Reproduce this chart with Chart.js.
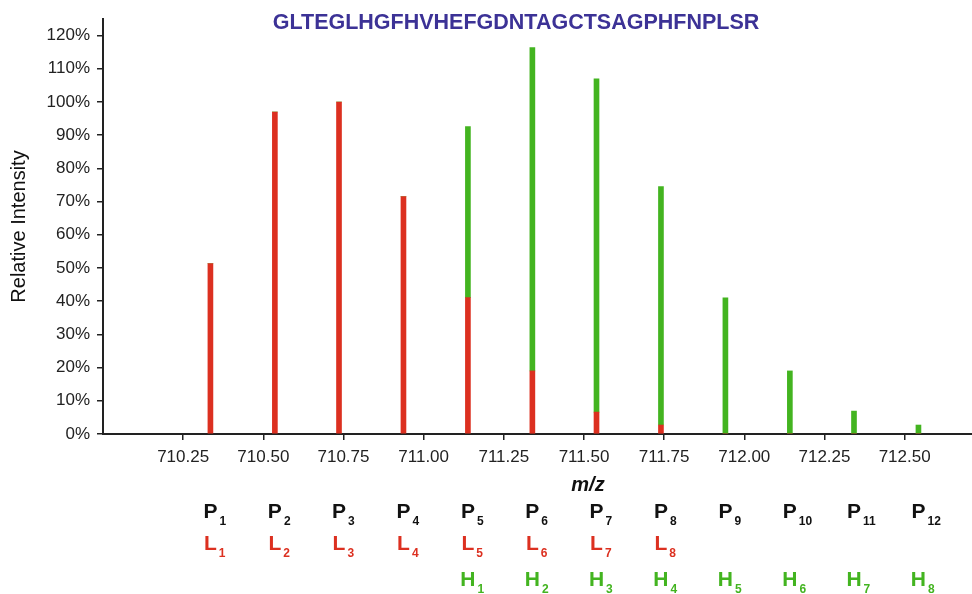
<!DOCTYPE html>
<html>
<head>
<meta charset="utf-8">
<script src="https://cdn.jsdelivr.net/npm/chart.js@4"></script>
<style>
  body { margin: 0; background: #fff; }
  #wrap { width: 972px; height: 594px; }
</style>
</head>
<body>
<div id="wrap"><canvas id="spectrum" width="972" height="594"></canvas></div>
<script>
  // peak positions (m/z) and relative intensities (%)
  const mzValues = [710.335, 710.536, 710.736, 710.937, 711.138, 711.339, 711.539, 711.740, 711.941, 712.142, 712.342, 712.543];
  const lightValues = [51.3, 97.0, 100.0, 71.5, 41.1, 19.0, 6.6, 2.7, 0, 0, 0, 0];
  const heavyValues = [0, 0, 0, 0, 51.5, 97.4, 100.4, 71.8, 41.0, 19.0, 6.9, 2.7];

  const xTicks = [710.25, 710.50, 710.75, 711.00, 711.25, 711.50, 711.75, 712.00, 712.25, 712.50];
  const yTicks = [0, 10, 20, 30, 40, 50, 60, 70, 80, 90, 100, 110, 120];

  // subscripts for the label rows under each peak
  const pSubs = ['1', '2', '3', '4', '5', '6', '7', '8', '9', '10', '11', '12'];
  const lSubs = ['1', '2', '3', '4', '5', '6', '7', '8', '', '', '', ''];
  const hSubs = ['', '', '', '', '1', '2', '3', '4', '5', '6', '7', '8'];

  const peptide = 'GLTEGLHGFHVHEFGDNTAGCTSAGPHFNPLSR';

  const RED = '#dc3020';
  const GREEN = '#43b420';
  const FONT = '"Liberation Sans", Arial, Helvetica, sans-serif';

  const labelPlugin = {
    id: 'peakLabels',
    afterDraw(chart) {
      const ctx = chart.ctx;
      const xs = chart.scales.x;
      ctx.save();
      ctx.textBaseline = 'alphabetic';

      // peptide sequence on top
      ctx.fillStyle = '#3c3296';
      ctx.font = 'bold 21.5px ' + FONT;
      ctx.textAlign = 'center';
      ctx.fillText(peptide, 516, 29);

      // m/z axis title
      ctx.fillStyle = '#111';
      ctx.font = 'italic bold 20px ' + FONT;
      ctx.fillText('m/z', 588, 491);

      function row(letter, subs, color, baseline) {
        ctx.fillStyle = color;
        subs.forEach(function(s, i) {
          if (!s) return;
          const x = xs.getPixelForValue(mzValues[i]);
          ctx.font = 'bold 21px ' + FONT;
          ctx.textAlign = 'center';
          ctx.fillText(letter, x, baseline);
          const w = ctx.measureText(letter).width;
          ctx.font = 'bold 12px ' + FONT;
          ctx.textAlign = 'left';
          ctx.fillText(s, x + w / 2 + 2, baseline + 7);
        });
      }
      row('P', pSubs, '#111', 518);
      row('L', lSubs, RED, 550);
      row('H', hSubs, GREEN, 586);
      ctx.restore();
    }
  };

  function toPoints(vals) {
    return mzValues.map(function(mz, i) { return { x: mz, y: vals[i] }; });
  }

  const ctx = document.getElementById('spectrum').getContext('2d');
  const chart = new Chart(ctx, {
    type: 'bar',
    data: {
      datasets: [{
        label: 'Light',
        data: toPoints(lightValues),
        backgroundColor: RED,
        barThickness: 5
      }, {
        label: 'Heavy',
        data: toPoints(heavyValues),
        backgroundColor: GREEN,
        barThickness: 5
      }]
    },
    options: {
      responsive: false,
      animation: false,
      layout: { padding: { top: 19, right: 0, bottom: 120, left: 0 } },
      plugins: {
        legend: { display: false },
        tooltip: { enabled: false }
      },
      scales: {
        x: {
          type: 'linear',
          stacked: true,
          offset: false,
          min: 710.0,
          max: 712.71,
          afterBuildTicks: function(scale) {
            scale.ticks = xTicks.map(function(v) { return { value: v }; });
          },
          afterFit: function(scale) { scale.height = 40; },
          ticks: {
            color: '#222',
            font: { family: FONT, size: 17 },
            padding: 7,
            maxRotation: 0,
            autoSkip: false,
            callback: function(v) { return v.toFixed(2); }
          },
          grid: { offset: false, drawOnChartArea: false, drawTicks: true, tickLength: 6, color: '#222', lineWidth: 1.5 },
          border: { display: true, color: '#222', width: 2 }
        },
        y: {
          stacked: true,
          min: 0,
          max: 125,
          afterBuildTicks: function(scale) {
            scale.ticks = yTicks.map(function(v) { return { value: v }; });
          },
          afterFit: function(scale) { scale.width = 103; },
          ticks: {
            color: '#222',
            font: { family: FONT, size: 17 },
            padding: 7,
            autoSkip: false,
            callback: function(v) { return v + '%'; }
          },
          grid: { drawOnChartArea: false, drawTicks: true, tickLength: 6, color: '#222', lineWidth: 1.5 },
          border: { display: true, color: '#222', width: 2 },
          title: {
            display: true,
            text: 'Relative Intensity',
            color: '#111',
            font: { family: FONT, size: 20 },
            padding: { top: 7, bottom: 0 }
          }
        }
      }
    },
    plugins: [labelPlugin]
  });
</script>
</body>
</html>
